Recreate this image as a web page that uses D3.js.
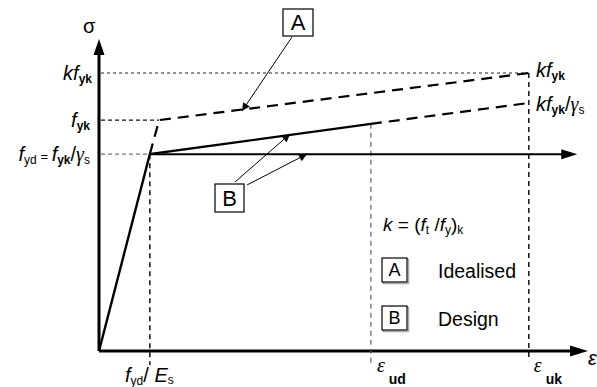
<!DOCTYPE html>
<html><head><meta charset="utf-8">
<script src="https://cdn.jsdelivr.net/npm/d3@7"></script>
<style>
body{margin:0;background:#fff;}
svg text{font-family:"Liberation Sans",Arial,sans-serif;fill:#000;}
</style></head>
<body><svg id="c" width="597" height="387"></svg>
<script>
// ---- data (schematic values, arbitrary units) ----
const strainKeys = ["eps_yd", "eps_yk", "eps_ud", "eps_uk"];
const strainVals = [10.4, 12.3, 55.6, 87.9];
const stressKeys = ["f_yd", "f_yk", "kf_yk", "f_ud", "kf_yk_gs"];
const stressVals = [631, 740, 891, 728, 795];
const designCurve = [[0,0],[10.4,631],[55.6,728]];          // B, bilinear inclined
const designFlat = [[10.4,631],[97.8,631]];                 // B, horizontal branch
const idealisedCurve = [[10.4,631],[12.3,740],[87.9,891]];  // A
const designExtension = [[55.6,728],[87.9,795]];            // continuation to k fyk/γs
const legendItems = ["Idealised", "Design"];
const legendKeys = ["A", "B"];

const E = Object.fromEntries(strainKeys.map((k,i)=>[k,strainVals[i]]));
const S = Object.fromEntries(stressKeys.map((k,i)=>[k,stressVals[i]]));

const svg = d3.select("#c");
const x = d3.scaleLinear().domain([0,100]).range([99,588]);
const y = d3.scaleLinear().domain([0,1000]).range([351,39]);
const line = d3.line().x(d=>x(d[0])).y(d=>y(d[1]));

// axes
svg.append("line").attr("x1",x(0)).attr("y1",y(0)).attr("x2",x(0)).attr("y2",y(0)-298)
  .attr("stroke","#000").attr("stroke-width",3);
svg.append("path").attr("d",`M${x(0)},${y(0)-312} l-5.5,16 l11,0 z`).attr("fill","#000");
svg.append("line").attr("x1",x(0)).attr("y1",y(0)).attr("x2",x(100)-16).attr("y2",y(0))
  .attr("stroke","#000").attr("stroke-width",3);
svg.append("path").attr("d",`M${x(100)},${y(0)} l-18,-5.5 l0,11 z`).attr("fill","#000");

// reference dashed lines
function dline(x1,y1,x2,y2,dash,col,w){
  svg.append("line").attr("x1",x1).attr("y1",y1).attr("x2",x2).attr("y2",y2)
   .attr("stroke",col).attr("stroke-width",w).attr("stroke-dasharray",dash);
}
dline(x(0)+2,y(S.kf_yk),x(E.eps_uk),y(S.kf_yk),"3,3","#222",1.2);
dline(x(0)+2,y(S.f_yk),x(E.eps_yk),y(S.f_yk),"4,3","#111",1.3);
dline(x(0)+2,y(S.f_yd),x(E.eps_yd),y(S.f_yd),"4,3","#777",1.4);
dline(x(E.eps_yd),y(S.f_yd),x(E.eps_yd),y(0)+14,"5,4","#000",1.4);
dline(x(E.eps_ud),y(S.f_ud),x(E.eps_ud),y(0)+12,"5,4","#555",1.1);
dline(x(E.eps_uk),y(S.kf_yk),x(E.eps_uk),y(0)+8,"5,4","#000",1.4);

// curves
svg.append("path").attr("d",line(idealisedCurve)).attr("fill","none").attr("stroke","#000")
  .attr("stroke-width",2.2).attr("stroke-dasharray","11,7");
svg.append("path").attr("d",line(designExtension)).attr("fill","none").attr("stroke","#000")
  .attr("stroke-width",2.2).attr("stroke-dasharray","11,7");
svg.append("path").attr("d",line(designCurve)).attr("fill","none").attr("stroke","#000")
  .attr("stroke-width",2.4).attr("stroke-linejoin","miter");
svg.append("line").attr("x1",x(designFlat[0][0])).attr("y1",y(designFlat[0][1]))
  .attr("x2",x(designFlat[1][0])-12).attr("y2",y(designFlat[1][1]))
  .attr("stroke","#000").attr("stroke-width",2);
svg.append("path").attr("d",`M${x(designFlat[1][0])},${y(designFlat[1][1])} l-16,-5 l0,10 z`).attr("fill","#000");

// callout arrows
const defs = svg.append("defs");
defs.append("marker").attr("id","ah").attr("viewBox","0 0 10 10").attr("refX",10).attr("refY",5)
  .attr("markerWidth",11).attr("markerHeight",8).attr("markerUnits","userSpaceOnUse").attr("orient","auto")
  .append("path").attr("d","M0,0 L10,5 L0,10 z").attr("fill","#000");
function arrow(x1,y1,x2,y2){
  svg.append("line").attr("x1",x1).attr("y1",y1).attr("x2",x2).attr("y2",y2)
    .attr("stroke","#000").attr("stroke-width",1).attr("marker-end","url(#ah)");
}
arrow(292,37,242,111);
arrow(235,182,290,134);
arrow(247,185,307,154);

function box(x0,y0,w,h,t,fs,shadow){
  if(shadow){
    svg.append("rect").attr("x",x0+1.5).attr("y",y0+1.5).attr("width",w).attr("height",h)
      .attr("fill","none").attr("stroke","#aaa").attr("stroke-width",1.5);
  }
  svg.append("rect").attr("x",x0).attr("y",y0).attr("width",w).attr("height",h)
    .attr("fill","#fff").attr("stroke","#000").attr("stroke-width",1.2);
  svg.append("text").attr("x",x0+w/2).attr("y",y0+h/2+fs*0.36).attr("text-anchor","middle")
    .attr("font-size",fs).text(t);
}
box(283,9,30,27,"A",22,false);
box(215,184,29,28,"B",22,false);

// legend
svg.append("text").attr("x",383).attr("y",231).attr("font-size",19)
  .html('<tspan font-style="italic">k</tspan> = (<tspan font-style="italic">f</tspan><tspan font-size="12" dy="3">t</tspan><tspan dy="-3"> /</tspan><tspan font-style="italic">f</tspan><tspan font-size="12" dy="3">y</tspan><tspan dy="-3">)</tspan><tspan font-size="12" dy="3">k</tspan>');
legendItems.forEach((t,i)=>{
  box(382,258+i*48,25,24,legendKeys[i],18,true);
  svg.append("text").attr("x",438).attr("y",278+i*48).attr("font-size",19.5).text(t);
});

// tick labels (left)
function lab(xp,yp,anchor,html){
  svg.append("text").attr("x",xp).attr("y",yp).attr("text-anchor",anchor).attr("font-size",20).html(html);
}
const sub = s=>`<tspan font-size="12" dy="3" font-weight="bold">${s}</tspan><tspan dy="-3"></tspan>`;
lab(92,y(S.kf_yk)+7,"end",`<tspan font-style="italic">kf</tspan>${sub("yk")}`);
lab(90,y(S.f_yk)+7,"end",`<tspan font-style="italic">f</tspan>${sub("yk")}`);
svg.append("text").attr("x",90).attr("y",y(S.f_yd)+7).attr("text-anchor","end").attr("font-size",20)
  .html(`<tspan font-style="italic">f</tspan><tspan font-size="12" dy="3">yd</tspan><tspan font-size="13" dy="-3"> = </tspan><tspan font-style="italic">f</tspan><tspan font-size="12" dy="3" font-weight="bold">yk</tspan><tspan dy="-3">/</tspan><tspan font-style="italic" font-family="Liberation Serif">&#947;</tspan><tspan font-size="12" dy="3">s</tspan>`);
// right labels
lab(536,y(S.kf_yk)+4,"start",`<tspan font-style="italic">kf</tspan>${sub("yk")}`);
svg.append("text").attr("x",536).attr("y",y(S.kf_yk_gs)+8).attr("font-size",20)
  .html(`<tspan font-style="italic">kf</tspan><tspan font-size="12" dy="3" font-weight="bold">yk</tspan><tspan dy="-3">/</tspan><tspan font-style="italic" font-family="Liberation Serif">&#947;</tspan><tspan font-size="12" dy="3">s</tspan>`);
// axis titles
svg.append("text").attr("x",83).attr("y",33).attr("font-size",20).attr("font-family","Liberation Serif").text("σ");
svg.append("text").attr("x",588).attr("y",365).attr("font-size",20).attr("font-style","italic").attr("font-family","Liberation Serif").text("ε");
// bottom labels
svg.append("text").attr("x",125).attr("y",382).attr("font-size",20)
  .html(`<tspan font-style="italic">f</tspan><tspan font-size="12" dy="3">yd</tspan><tspan dy="-3">/ </tspan><tspan font-style="italic">E</tspan><tspan font-size="12" dy="2">s</tspan>`);
function epsLab(xp,s){
  const t = svg.append("text").attr("x",xp).attr("y",372).attr("font-size",20);
  t.append("tspan").attr("font-style","italic").attr("font-family","Liberation Serif").text("ε");
  t.append("tspan").attr("dx",4).attr("dy",12).attr("font-size",14).attr("font-weight","bold").text(s);
}
epsLab(x(E.eps_ud)+6,"ud");
epsLab(x(E.eps_uk)+5,"uk");
</script></body></html>
